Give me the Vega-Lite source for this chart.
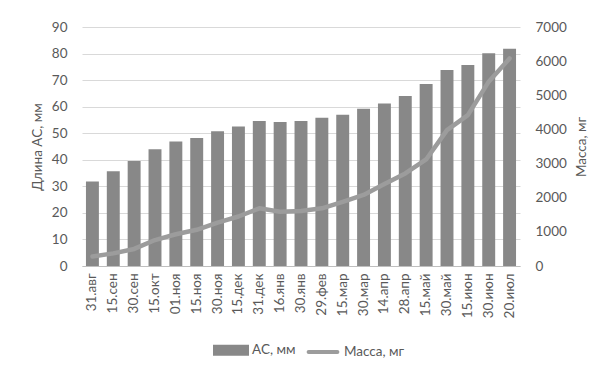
{
  "$schema": "https://vega.github.io/schema/vega-lite/v6.json",
  "width": 438,
  "height": 239,
  "autosize": {"type": "none"},
  "padding": {"left": 82, "top": 27, "right": 82, "bottom": 102},
  "background": "white",
  "config": {
    "font": "Lato",
    "view": {"stroke": null},
    "axis": {"labelFont": "Lato", "titleFont": "Lato", "labelColor": "#595959", "titleColor": "#595959", "labelFontSize": 13.5, "titleFontSize": 13.5, "titleFontWeight": "normal", "ticks": false, "domain": false, "gridColor": "#d9d9d9"},
    "legend": {"labelFont": "Lato", "labelFontSize": 13.5, "labelColor": "#595959"}
  },
  "data": {"values": [
    {"d": "31.авг", "ac": 31.8, "mass": 280},
    {"d": "15.сен", "ac": 35.7, "mass": 370},
    {"d": "30.сен", "ac": 39.5, "mass": 500},
    {"d": "15.окт", "ac": 44.0, "mass": 760},
    {"d": "01.ноя", "ac": 46.9, "mass": 930},
    {"d": "15.ноя", "ac": 48.2, "mass": 1060},
    {"d": "30.ноя", "ac": 50.7, "mass": 1270},
    {"d": "15.дек", "ac": 52.5, "mass": 1450},
    {"d": "31.дек", "ac": 54.6, "mass": 1690},
    {"d": "16.янв", "ac": 54.2, "mass": 1590},
    {"d": "30.янв", "ac": 54.6, "mass": 1610},
    {"d": "29.фев", "ac": 55.8, "mass": 1690},
    {"d": "15.мар", "ac": 57.0, "mass": 1880},
    {"d": "30.мар", "ac": 59.2, "mass": 2080},
    {"d": "14.апр", "ac": 61.2, "mass": 2400},
    {"d": "28.апр", "ac": 64.0, "mass": 2710},
    {"d": "15.май", "ac": 68.5, "mass": 3120},
    {"d": "30.май", "ac": 73.8, "mass": 3980},
    {"d": "15.июн", "ac": 75.7, "mass": 4420},
    {"d": "30.июн", "ac": 80.1, "mass": 5400},
    {"d": "20.июл", "ac": 81.8, "mass": 6080}
  ]},
  "encoding": {
    "x": {
      "field": "d", "type": "nominal", "sort": null,
      "scale": {"paddingInner": 0.38, "paddingOuter": 0.19},
      "axis": {"title": null, "labelAngle": -90, "labelPadding": 7, "domain": true, "domainColor": "#bfbfbf"}
    }
  },
  "layer": [
    {
      "mark": {"type": "bar", "color": "#888888"},
      "encoding": {
        "y": {"field": "ac", "type": "quantitative", "scale": {"domain": [0, 90]},
          "axis": {"title": "Длина АС, мм", "orient": "left", "values": [0,10,20,30,40,50,60,70,80,90], "labelPadding": 15, "titlePadding": 7, "grid": true}},
        "color": {"datum": "АС, мм", "type": "nominal",
          "scale": {"domain": ["АС, мм", "Масса, мг"], "range": ["#888888", "#9c9c9c"]},
          "legend": {
            "title": null, "orient": "none", "legendX": 131, "legendY": 305, "direction": "horizontal",
            "columnPadding": 4, "labelOffset": 3,
            "symbolSize": 1024,
            "encode": {"symbols": {"update": {
              "shape": {"signal": "datum.value === 'АС, мм' ? 'M-1,-0.22H1V0.22H-1Z' : 'M-0.9,0H0.9'"},
              "size": {"value": 1024},
              "fill": {"signal": "datum.value === 'АС, мм' ? '#888888' : 'transparent'"},
              "stroke": {"signal": "datum.value === 'АС, мм' ? 'transparent' : '#9c9c9c'"},
              "strokeWidth": {"value": 4},
              "strokeCap": {"value": "round"}
            }}}
          }}
      }
    },
    {
      "mark": {"type": "line", "color": "#9c9c9c", "strokeWidth": 4.5, "strokeCap": "round", "strokeJoin": "round"},
      "encoding": {
        "y": {"field": "mass", "type": "quantitative", "scale": {"domain": [0, 7000]},
          "axis": {"title": "Масса, мг", "orient": "right", "format": "d", "values": [0,1000,2000,3000,4000,5000,6000,7000], "labelPadding": 15, "titlePadding": 22, "grid": false, "titleAngle": -90}},
        "color": {"datum": "Масса, мг", "type": "nominal"}
      }
    }
  ],
  "resolve": {"scale": {"y": "independent"}}
}
